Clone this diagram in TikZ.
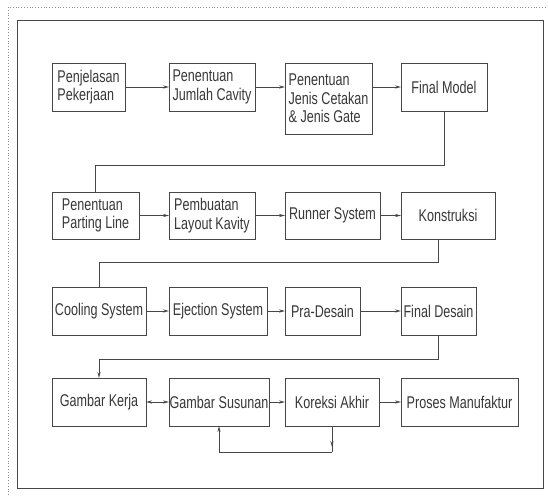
\documentclass[tikz,border=0pt]{standalone}
\usepackage{fontspec}
\newfontfamily\cadfont[FakeStretch=0.74]{Liberation Sans}
\usetikzlibrary{arrows.meta}
\begin{document}
\begin{tikzpicture}[x=1pt,y=-1pt,
  ln/.style={draw=black!72, line width=0.9pt},
  bx/.style={ln, rectangle, inner sep=0pt, outer sep=0pt, align=left, text=black!78,
    font=\cadfont\fontsize{17}{18.5}\selectfont},
  arr/.style={ln, -{Stealth[length=6pt,width=3.2pt]}},
  darr/.style={ln, {Stealth[length=6pt,width=3.2pt]}-{Stealth[length=6pt,width=3.2pt]}},
  con/.style={ln}]
\newcommand\bx[6]{\node[bx, minimum width={#3-#2}, minimum height={#5-#4}] (#1) at ({(#2+#3)/2},{(#4+#5)/2}) {#6};}
\useasboundingbox[fill=white] (0,0) rectangle (548,495);
% frames
\draw[black!45, dotted, line width=0.8pt] (8,495) -- (8,7) -- (548,7);
\draw[ln] (17,20) rectangle (543,488);
% row 1
\bx{b1}{52}{125}{63}{111}{Penjelasan\\Pekerjaan}
\bx{b2}{169}{255}{63}{111}{Penentuan\\Jumlah Cavity}
\bx{b3}{285}{372}{63}{134}{Penentuan\\Jenis Cetakan\\\& Jenis Gate}
\bx{b4}{401}{487}{63}{111}{Final Model}
% row 2
\bx{c1}{52}{139}{192}{239}{Penentuan\\Parting Line}
\bx{c2}{169}{255}{192}{239}{Pembuatan\\Layout Kavity}
\bx{c3}{285}{380}{192}{239}{Runner System}
\bx{c4}{401}{495}{192}{239}{Konstruksi}
% row 3
\bx{d1}{52}{146}{287}{335}{Cooling System}
\bx{d2}{169}{267}{287}{335}{Ejection System}
\bx{d3}{285}{360}{287}{335}{Pra-Desain}
\bx{d4}{401}{476}{287}{335}{Final Desain}
% row 4
\bx{e1}{52}{146}{378}{426}{Gambar Kerja}
\bx{e2}{169}{269}{378}{426}{Gambar Susunan}
\bx{e3}{285}{379}{378}{426}{Koreksi Akhir}
\bx{e4}{401}{518}{378}{426}{Proses Manufaktur}
% row arrows
\draw[arr] (b1.east) -- (b2.west);
\draw[arr] (b2.east) -- (b2.east -| b3.west);
\draw[arr] (b3.east |- b4.west) -- (b4.west);
\draw[arr] (c1.east) -- (c2.west);
\draw[arr] (c2.east) -- (c3.west);
\draw[arr] (c3.east) -- (c4.west);
\draw[arr] (d1.east) -- (d2.west);
\draw[arr] (d2.east) -- (d3.west);
\draw[arr] (d3.east) -- (d4.west);
\draw[darr] (e1.east) -- (e2.west);
\draw[arr] (e2.east) -- (e3.west);
\draw[arr] (e3.east) -- (e4.west);
% row connectors
\draw[con] (b4.south) -- ++(0,54) -| (c1.north);
\draw[con] (c4.south -| d4.north) -- ++(0,23) -| (d1.north);
\draw[arr] (d4.south) -- ++(0,24) -| (e1.north);
% feedback loop
\draw[con] (e3.south) -- ++(0,26) coordinate (lc);
\draw[arr] (e3.south) -- ++(0,21);
\draw[arr] (lc) -| (e2.south);
\end{tikzpicture}
\end{document}
